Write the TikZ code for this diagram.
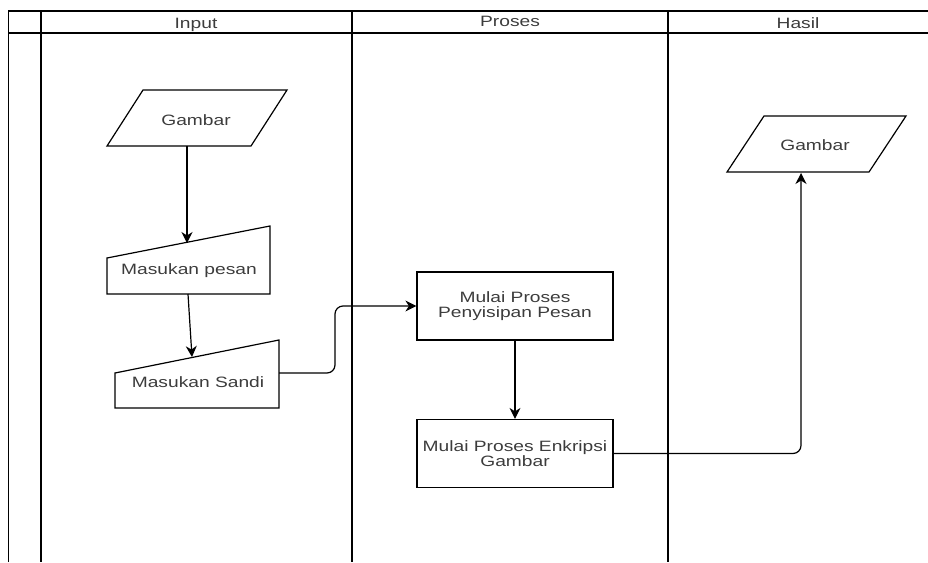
\documentclass[tikz,border=0pt]{standalone}
\usepackage{fontspec}
\setmainfont{Liberation Sans}[FakeStretch=1.28]
\usetikzlibrary{positioning, arrows.meta}
\definecolor{txtgray}{RGB}{60,60,60}
\tikzset{
  lane/.style={draw=black, line width=1.3pt},
  shp/.style={draw=black, line width=1.2pt},
  lbl/.style={text=txtgray, font=\fontsize{15}{15}\selectfont, inner sep=0pt},
  prosesbox/.style={shp, lbl, align=center, minimum width=196pt, minimum height=68pt},
  flow/.style={draw=black, line width=1.2pt, -{Stealth[length=11pt,width=11pt,inset=3.5pt]}},
}

\begin{document}
\begin{tikzpicture}[x=1pt, y=-1pt]
\useasboundingbox (0,0) rectangle (928,562);
\draw [lane] (8.5,562) -- (8.5,11) -- (928,11);
\draw [lane] (8.5,33) -- (928,33);
\draw [lane] (41,11) -- (41,562);
\draw [lane] (352,11) -- (352,562);
\draw [lane] (668,11) -- (668,562);
\node [lbl, anchor=base] (hInput) at (196,28) {Input};
\node [lbl, anchor=base] (hProses) at (510,26) {Proses};
\node [lbl, anchor=base] (hHasil) at (798,28) {Hasil};

\draw [shp] (143,90) -- (287,90) -- (251,146) -- (107,146) -- cycle;
\node [lbl, anchor=base] (gambarIn) at (196,125) {Gambar};
\draw [shp] (107,258) -- (270,226) -- (270,294) -- (107,294) -- cycle;
\node [lbl, anchor=base] (pesan) at (189,274) {Masukan pesan};
\draw [shp] (115,373) -- (279,340) -- (279,408) -- (115,408) -- cycle;
\node [lbl, anchor=base] (sandi) at (198,387) {Masukan Sandi};
\node [prosesbox] (penyisipan) at (515,306) {Mulai Proses\\Penyisipan Pesan};
\node [prosesbox] (enkripsi) at (515,453.5) {Mulai Proses Enkripsi\\Gambar};
\draw [shp] (764,116) -- (906,116) -- (869,172) -- (727,172) -- cycle;
\node [lbl, anchor=base] (gambarOut) at (815,150.5) {Gambar};

\coordinate (gambarInS) at (187,146);
\coordinate (pesanN) at (187,243);
\coordinate (pesanS) at (188,294);
\coordinate (sandiN) at (192,357);
\coordinate (sandiE) at (279,373);
\coordinate (gambarOutS) at (801,173);

\draw [flow] (gambarInS) -- (pesanN);
\draw [flow] (pesanS) -- (sandiN);
\draw [flow, rounded corners=8pt] (sandiE) -- (335,373) |- (penyisipan.west);
\draw [flow] (penyisipan.south) -- (enkripsi.north);
\draw [flow, rounded corners=8pt] (enkripsi.east) -| (gambarOutS);
\end{tikzpicture}
\end{document}
